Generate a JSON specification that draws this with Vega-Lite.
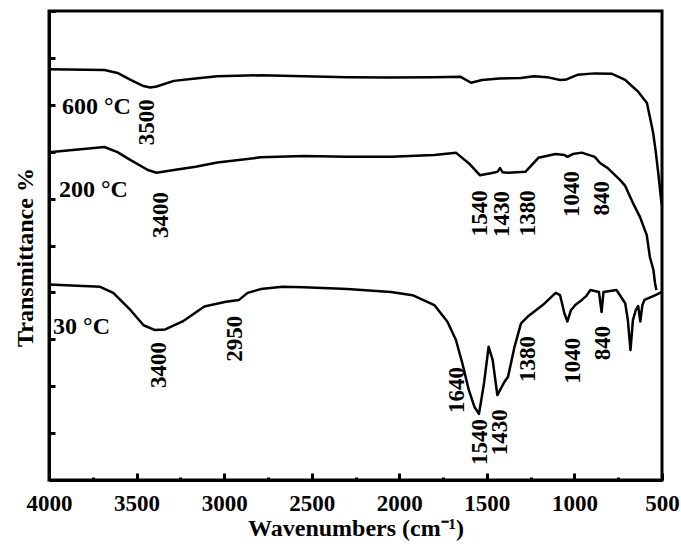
{
  "$schema": "https://vega.github.io/schema/vega-lite/v6.json",
  "width": 613,
  "height": 469,
  "autosize": {"type": "none"},
  "padding": {"left": 49, "top": 11, "right": 19, "bottom": 72},
  "background": "white",
  "config": {"view": {"stroke": "black", "strokeWidth": 3}, "font": "Liberation Serif"},
  "datasets": {
    "spectra": [
      {"sample": "600", "wavenumber": 4000, "T": 87.6},
      {"sample": "600", "wavenumber": 3683, "T": 87.4},
      {"sample": "600", "wavenumber": 3609, "T": 86.8},
      {"sample": "600", "wavenumber": 3534, "T": 85.3},
      {"sample": "600", "wavenumber": 3460, "T": 84.0},
      {"sample": "600", "wavenumber": 3423, "T": 83.7},
      {"sample": "600", "wavenumber": 3386, "T": 83.9},
      {"sample": "600", "wavenumber": 3287, "T": 85.1},
      {"sample": "600", "wavenumber": 3163, "T": 85.6},
      {"sample": "600", "wavenumber": 3039, "T": 86.1},
      {"sample": "600", "wavenumber": 2791, "T": 86.3},
      {"sample": "600", "wavenumber": 2544, "T": 86.1},
      {"sample": "600", "wavenumber": 2296, "T": 85.9},
      {"sample": "600", "wavenumber": 2048, "T": 85.8},
      {"sample": "600", "wavenumber": 1800, "T": 85.9},
      {"sample": "600", "wavenumber": 1652, "T": 86.0},
      {"sample": "600", "wavenumber": 1590, "T": 84.7},
      {"sample": "600", "wavenumber": 1528, "T": 85.3},
      {"sample": "600", "wavenumber": 1429, "T": 85.6},
      {"sample": "600", "wavenumber": 1305, "T": 85.7},
      {"sample": "600", "wavenumber": 1231, "T": 86.1},
      {"sample": "600", "wavenumber": 1157, "T": 85.9},
      {"sample": "600", "wavenumber": 1082, "T": 85.3},
      {"sample": "600", "wavenumber": 1045, "T": 85.4},
      {"sample": "600", "wavenumber": 983, "T": 86.4},
      {"sample": "600", "wavenumber": 884, "T": 86.7},
      {"sample": "600", "wavenumber": 785, "T": 86.6},
      {"sample": "600", "wavenumber": 710, "T": 85.3},
      {"sample": "600", "wavenumber": 666, "T": 83.8},
      {"sample": "600", "wavenumber": 636, "T": 82.8},
      {"sample": "600", "wavenumber": 586, "T": 80.4},
      {"sample": "600", "wavenumber": 562, "T": 76.1},
      {"sample": "600", "wavenumber": 551, "T": 74.1},
      {"sample": "600", "wavenumber": 537, "T": 70.4},
      {"sample": "600", "wavenumber": 520, "T": 65.0},
      {"sample": "600", "wavenumber": 505, "T": 59.7},
      {"sample": "600", "wavenumber": 500, "T": 58.6},
      {"sample": "200", "wavenumber": 4000, "T": 69.9},
      {"sample": "200", "wavenumber": 3683, "T": 71.0},
      {"sample": "200", "wavenumber": 3609, "T": 69.9},
      {"sample": "200", "wavenumber": 3534, "T": 68.2},
      {"sample": "200", "wavenumber": 3435, "T": 66.1},
      {"sample": "200", "wavenumber": 3386, "T": 65.5},
      {"sample": "200", "wavenumber": 3287, "T": 66.1},
      {"sample": "200", "wavenumber": 3163, "T": 66.8},
      {"sample": "200", "wavenumber": 3039, "T": 67.7},
      {"sample": "200", "wavenumber": 2791, "T": 68.8},
      {"sample": "200", "wavenumber": 2544, "T": 69.1},
      {"sample": "200", "wavenumber": 2296, "T": 68.9},
      {"sample": "200", "wavenumber": 2048, "T": 68.9},
      {"sample": "200", "wavenumber": 1800, "T": 69.3},
      {"sample": "200", "wavenumber": 1677, "T": 69.8},
      {"sample": "200", "wavenumber": 1602, "T": 67.5},
      {"sample": "200", "wavenumber": 1540, "T": 65.0},
      {"sample": "200", "wavenumber": 1478, "T": 65.4},
      {"sample": "200", "wavenumber": 1440, "T": 65.7},
      {"sample": "200", "wavenumber": 1425, "T": 66.5},
      {"sample": "200", "wavenumber": 1410, "T": 65.6},
      {"sample": "200", "wavenumber": 1379, "T": 65.5},
      {"sample": "200", "wavenumber": 1280, "T": 65.7},
      {"sample": "200", "wavenumber": 1206, "T": 68.7},
      {"sample": "200", "wavenumber": 1107, "T": 69.5},
      {"sample": "200", "wavenumber": 1057, "T": 69.3},
      {"sample": "200", "wavenumber": 1040, "T": 68.9},
      {"sample": "200", "wavenumber": 1010, "T": 69.5},
      {"sample": "200", "wavenumber": 958, "T": 69.8},
      {"sample": "200", "wavenumber": 884, "T": 68.9},
      {"sample": "200", "wavenumber": 854, "T": 67.6},
      {"sample": "200", "wavenumber": 810, "T": 66.5},
      {"sample": "200", "wavenumber": 740, "T": 64.0},
      {"sample": "200", "wavenumber": 710, "T": 62.7},
      {"sample": "200", "wavenumber": 660, "T": 58.6},
      {"sample": "200", "wavenumber": 626, "T": 56.1},
      {"sample": "200", "wavenumber": 587, "T": 52.2},
      {"sample": "200", "wavenumber": 569, "T": 47.5},
      {"sample": "200", "wavenumber": 549, "T": 44.8},
      {"sample": "200", "wavenumber": 540, "T": 42.0},
      {"sample": "200", "wavenumber": 532, "T": 40.5},
      {"sample": "30", "wavenumber": 4000, "T": 41.7},
      {"sample": "30", "wavenumber": 3708, "T": 41.2},
      {"sample": "30", "wavenumber": 3633, "T": 39.9},
      {"sample": "30", "wavenumber": 3534, "T": 36.2},
      {"sample": "30", "wavenumber": 3460, "T": 33.0},
      {"sample": "30", "wavenumber": 3398, "T": 32.0},
      {"sample": "30", "wavenumber": 3336, "T": 32.1},
      {"sample": "30", "wavenumber": 3237, "T": 33.8},
      {"sample": "30", "wavenumber": 3113, "T": 37.0},
      {"sample": "30", "wavenumber": 2990, "T": 38.0},
      {"sample": "30", "wavenumber": 2915, "T": 38.4},
      {"sample": "30", "wavenumber": 2866, "T": 39.9},
      {"sample": "30", "wavenumber": 2791, "T": 40.7},
      {"sample": "30", "wavenumber": 2667, "T": 41.2},
      {"sample": "30", "wavenumber": 2544, "T": 41.1},
      {"sample": "30", "wavenumber": 2296, "T": 40.7},
      {"sample": "30", "wavenumber": 2048, "T": 40.1},
      {"sample": "30", "wavenumber": 1924, "T": 39.4},
      {"sample": "30", "wavenumber": 1800, "T": 37.3},
      {"sample": "30", "wavenumber": 1726, "T": 33.8},
      {"sample": "30", "wavenumber": 1677, "T": 29.9},
      {"sample": "30", "wavenumber": 1640, "T": 24.9},
      {"sample": "30", "wavenumber": 1603, "T": 19.2},
      {"sample": "30", "wavenumber": 1570, "T": 15.5},
      {"sample": "30", "wavenumber": 1545, "T": 14.1},
      {"sample": "30", "wavenumber": 1516, "T": 20.7},
      {"sample": "30", "wavenumber": 1490, "T": 28.4},
      {"sample": "30", "wavenumber": 1467, "T": 25.6},
      {"sample": "30", "wavenumber": 1440, "T": 18.1},
      {"sample": "30", "wavenumber": 1400, "T": 20.9},
      {"sample": "30", "wavenumber": 1379, "T": 22.0},
      {"sample": "30", "wavenumber": 1342, "T": 28.4},
      {"sample": "30", "wavenumber": 1305, "T": 33.4},
      {"sample": "30", "wavenumber": 1268, "T": 34.8},
      {"sample": "30", "wavenumber": 1181, "T": 37.3},
      {"sample": "30", "wavenumber": 1107, "T": 39.9},
      {"sample": "30", "wavenumber": 1082, "T": 39.4},
      {"sample": "30", "wavenumber": 1057, "T": 35.5},
      {"sample": "30", "wavenumber": 1040, "T": 33.8},
      {"sample": "30", "wavenumber": 1020, "T": 36.2},
      {"sample": "30", "wavenumber": 995, "T": 37.3},
      {"sample": "30", "wavenumber": 958, "T": 38.4},
      {"sample": "30", "wavenumber": 933, "T": 39.2},
      {"sample": "30", "wavenumber": 909, "T": 40.5},
      {"sample": "30", "wavenumber": 860, "T": 40.1},
      {"sample": "30", "wavenumber": 845, "T": 35.8},
      {"sample": "30", "wavenumber": 834, "T": 40.1},
      {"sample": "30", "wavenumber": 760, "T": 40.5},
      {"sample": "30", "wavenumber": 710, "T": 37.7},
      {"sample": "30", "wavenumber": 695, "T": 34.1},
      {"sample": "30", "wavenumber": 680, "T": 27.7},
      {"sample": "30", "wavenumber": 666, "T": 34.1},
      {"sample": "30", "wavenumber": 650, "T": 36.2},
      {"sample": "30", "wavenumber": 636, "T": 37.1},
      {"sample": "30", "wavenumber": 624, "T": 33.8},
      {"sample": "30", "wavenumber": 612, "T": 37.3},
      {"sample": "30", "wavenumber": 600, "T": 38.4},
      {"sample": "30", "wavenumber": 537, "T": 39.4},
      {"sample": "30", "wavenumber": 500, "T": 40.1}
    ],
    "labels": [
      {"kind": "sample", "label": "600 °C", "wavenumber": 3926, "T": 79.5},
      {"kind": "sample", "label": "200 °C", "wavenumber": 3943, "T": 61.8},
      {"kind": "sample", "label": "30 °C", "wavenumber": 3977, "T": 32.6},
      {"kind": "peak", "label": "3500", "wavenumber": 3440, "T": 76.3},
      {"kind": "peak", "label": "3400", "wavenumber": 3361, "T": 56.5},
      {"kind": "peak", "label": "1540", "wavenumber": 1539, "T": 56.9},
      {"kind": "peak", "label": "1430", "wavenumber": 1413, "T": 56.7},
      {"kind": "peak", "label": "1380", "wavenumber": 1265, "T": 56.9},
      {"kind": "peak", "label": "1040", "wavenumber": 1014, "T": 61.0},
      {"kind": "peak", "label": "840", "wavenumber": 843, "T": 60.1},
      {"kind": "peak", "label": "3400", "wavenumber": 3372, "T": 24.5},
      {"kind": "peak", "label": "2950", "wavenumber": 2938, "T": 30.1},
      {"kind": "peak", "label": "1640", "wavenumber": 1670, "T": 19.2},
      {"kind": "peak", "label": "1540", "wavenumber": 1539, "T": 8.1},
      {"kind": "peak", "label": "1430", "wavenumber": 1425, "T": 10.2},
      {"kind": "peak", "label": "1380", "wavenumber": 1265, "T": 25.8},
      {"kind": "peak", "label": "1040", "wavenumber": 1008, "T": 25.4},
      {"kind": "peak", "label": "840", "wavenumber": 837, "T": 29.2}
    ]
  },
  "layer": [
    {
      "data": {"name": "spectra"},
      "mark": {"type": "line", "color": "black", "strokeWidth": 2.5, "strokeJoin": "round"},
      "encoding": {
        "x": {
          "field": "wavenumber", "type": "quantitative",
          "scale": {"domain": [4000, 500], "nice": false},
          "axis": {
            "values": [4000, 3750, 3500, 3250, 3000, 2750, 2500, 2250, 2000, 1750, 1500, 1250, 1000, 750, 500],
            "format": "d",
            "labelExpr": "datum.value % 500 === 0 ? datum.label : ''",
            "labelFont": "Liberation Serif", "labelFontSize": 23, "labelFontWeight": "bold", "labelColor": "black",
            "labelPadding": 19, "labelFlush": false, "labelOverlap": false,
            "tickColor": "black", "tickWidth": 3,
            "tickSize": {"condition": {"test": "datum.value % 500 === 0", "value": -7}, "value": -3},
            "domainColor": "black", "domainWidth": 3, "grid": false,
            "title": "Wavenumbers (cm⁻¹)",
            "titleFont": "Liberation Serif", "titleFontSize": 24, "titleFontWeight": "bold", "titleColor": "black",
            "titleY": 48, "titleBaseline": "middle"
          }
        },
        "y": {
          "field": "T", "type": "quantitative",
          "scale": {"domain": [0, 100], "nice": false},
          "axis": {
            "values": [0, 5, 10, 15, 20, 25, 30, 35, 40, 45, 50, 55, 60, 65, 70, 75, 80, 85, 90, 95, 100],
            "labels": false,
            "tickColor": "black", "tickWidth": 3, "tickSize": -6,
            "domainColor": "black", "domainWidth": 3, "grid": false,
            "title": "Transmittance %",
            "titleFont": "Liberation Serif", "titleFontSize": 24, "titleFontWeight": "bold", "titleColor": "black",
            "titleX": -24, "titleY": 246, "titleBaseline": "middle", "titleAngle": 270
          }
        },
        "detail": {"field": "sample"}
      }
    },
    {
      "data": {"name": "labels"},
      "transform": [{"filter": "datum.kind === 'sample'"}],
      "mark": {"type": "text", "font": "Liberation Serif", "fontWeight": "bold", "fontSize": 24, "color": "black", "align": "left", "baseline": "middle"},
      "encoding": {
        "x": {"field": "wavenumber", "type": "quantitative"},
        "y": {"field": "T", "type": "quantitative"},
        "text": {"field": "label"}
      }
    },
    {
      "data": {"name": "labels"},
      "transform": [{"filter": "datum.kind === 'peak'"}],
      "mark": {"type": "text", "font": "Liberation Serif", "fontWeight": "bold", "fontSize": 23, "color": "black", "align": "center", "baseline": "middle", "angle": 270},
      "encoding": {
        "x": {"field": "wavenumber", "type": "quantitative"},
        "y": {"field": "T", "type": "quantitative"},
        "text": {"field": "label"}
      }
    }
  ]
}
